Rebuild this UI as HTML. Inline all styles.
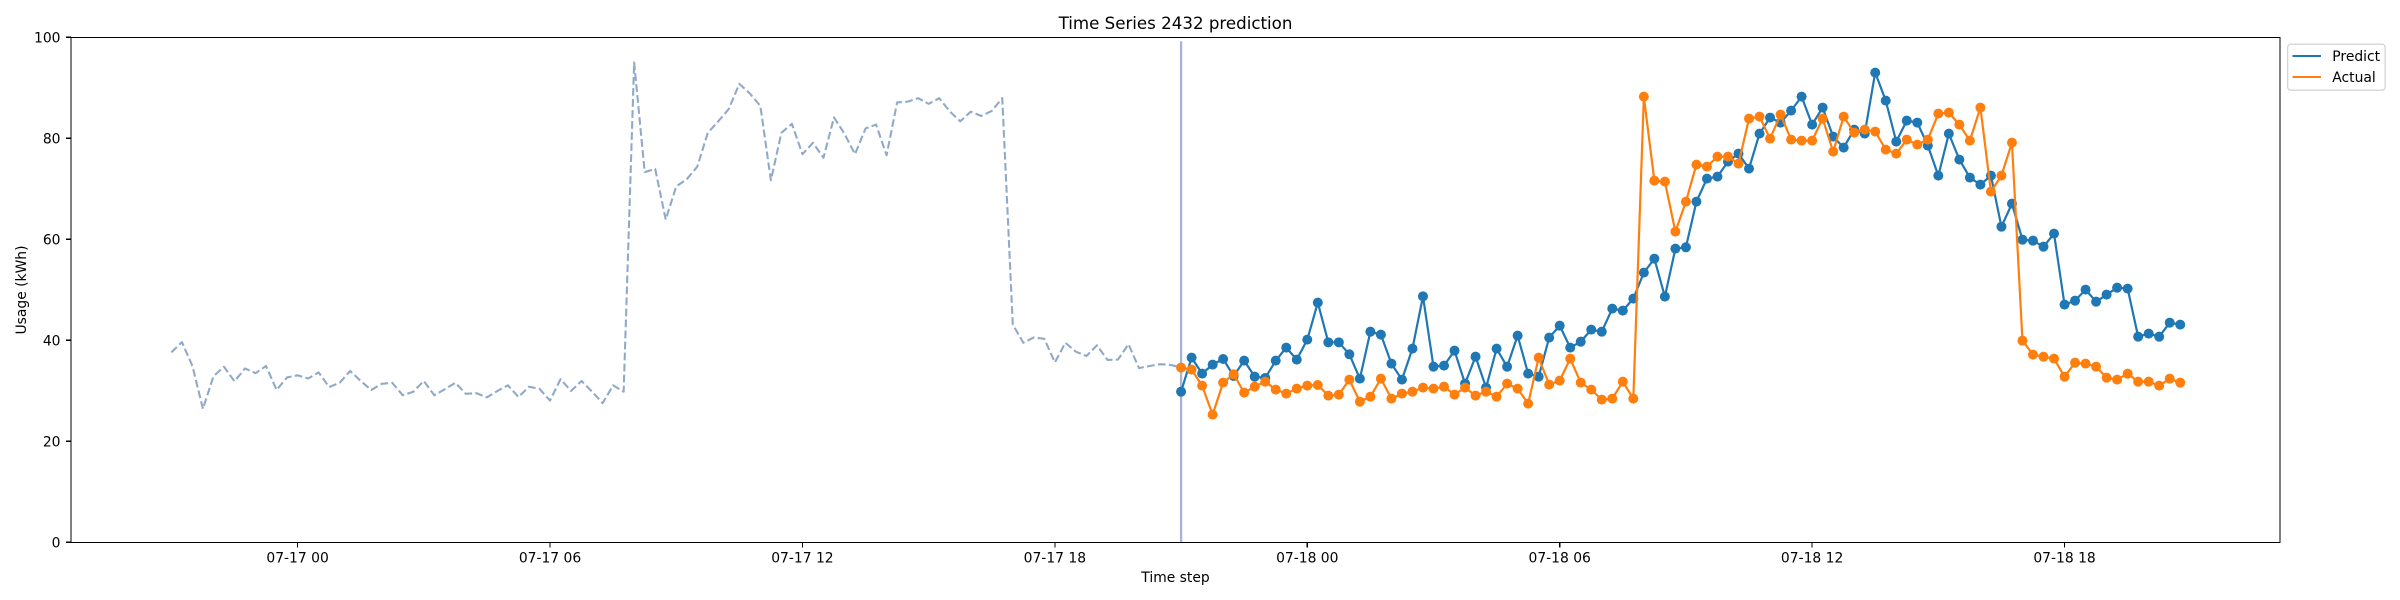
<!DOCTYPE html>
<html lang="en">
<head>
<meta charset="utf-8">
<title>Time Series 2432 prediction</title>
<style>
html,body{margin:0;padding:0;background:#fff;width:2400px;height:600px;overflow:hidden}
svg{display:block}
text{font-family:"DejaVu Sans","Liberation Sans",sans-serif;fill:#000;font-size:13.89px}
</style>
</head>
<body>
<svg id="chart" xmlns="http://www.w3.org/2000/svg" width="2400" height="600" viewBox="0 0 2400 600">
  <rect x="0" y="0" width="2400" height="600" fill="#fff"/>
  <g id="ticks"></g>
  <g id="marks"></g>
  <rect x="71" y="37.5" width="2209" height="505" fill="none" stroke="#000" stroke-width="1.11" shape-rendering="crispEdges"/>
  <text x="1175.5" y="29" text-anchor="middle" style="font-size:16.67px">Time Series 2432 prediction</text>
  <text x="1175.5" y="582" text-anchor="middle">Time step</text>
  <text transform="translate(26,290) rotate(-90)" text-anchor="middle">Usage (kWh)</text>
  <g>
    <rect x="2287.7" y="44.2" width="97.4" height="46" rx="3" ry="3" fill="#fff" fill-opacity="0.8" stroke="#ccc" stroke-width="1.1"/>
    <line x1="2292.5" x2="2321" y1="56" y2="56" stroke="#1f77b4" stroke-width="2.08"/>
    <text x="2332.3" y="61">Predict</text>
    <line x1="2292.5" x2="2321" y1="77" y2="77" stroke="#ff7f0e" stroke-width="2.08"/>
    <text x="2332.3" y="82">Actual</text>
  </g>
</svg>
<script>
// Values. Time is expressed in 15-minute steps.
const historyValues = [37.6,39.65,34.91,26.43,32.87,34.77,31.87,34.42,33.5,34.91,30.17,32.65,33.07,32.44,33.64,30.74,31.59,33.92,31.94,30.17,31.38,31.59,29.11,29.82,31.94,29.11,30.31,31.59,29.4,29.54,28.69,29.97,31.09,28.77,30.81,30.39,28.07,32.3,29.97,31.94,29.82,27.56,31.09,29.82,95.02,73.31,73.95,63.91,70.48,71.9,74.37,81.09,83.36,85.83,90.78,88.87,86.4,71.69,81.09,82.86,76.85,79.11,76.14,84.13,80.88,76.85,81.94,82.72,76.64,87.1,87.25,87.95,86.82,87.95,85.34,83.36,85.27,84.42,85.41,87.95,43.12,39.51,40.57,40.29,35.62,39.51,37.74,36.89,39.01,36.11,36.19,39.23,34.49,34.91,35.27,35.12,34.63];
const predictValues = [29.83,36.57,33.4,35.18,36.3,32.94,35.97,32.8,32.54,35.97,38.55,36.17,40.13,47.46,39.6,39.6,37.23,32.41,41.71,41.12,35.38,32.21,38.35,48.71,34.78,34.98,37.95,31.42,36.76,30.63,38.35,34.78,40.92,33.4,32.8,40.53,42.9,38.55,39.73,42.11,41.71,46.27,45.88,48.25,53.4,56.17,48.65,58.15,58.42,67.46,72.02,72.41,75.38,76.97,74,80.93,84.1,83.11,85.48,88.25,82.71,86.08,80.33,78.16,81.72,80.93,93.01,87.46,79.34,83.5,83.11,78.55,72.61,80.93,75.78,72.22,70.83,72.61,62.5,67.06,59.93,59.73,58.54,61.12,47.06,47.85,50.03,47.65,49.04,50.42,50.23,40.72,41.32,40.72,43.49,43.1];
const actualValues = [34.59,34.19,31.02,25.28,31.62,33.27,29.64,30.82,31.81,30.23,29.44,30.43,31.02,31.15,29.04,29.24,32.21,27.85,28.84,32.41,28.45,29.44,29.83,30.63,30.43,30.82,29.24,30.63,29.04,29.83,28.84,31.42,30.43,27.46,36.57,31.22,32.01,36.37,31.62,30.23,28.25,28.45,31.81,28.45,88.25,71.62,71.42,61.52,67.46,74.79,74.39,76.37,76.37,74.99,83.9,84.29,79.94,84.69,79.74,79.54,79.54,83.9,77.36,84.29,81.13,81.72,81.32,77.76,76.97,79.74,78.75,79.74,84.89,85.09,82.71,79.54,86.08,69.44,72.61,79.14,39.93,37.16,36.76,36.37,32.8,35.57,35.38,34.78,32.6,32.21,33.39,31.81,31.81,31.02,32.4,31.61];
const historyStartHour = -3;
const forecastStartHour = 21;
const stepHours = 0.25;
const xTickHours = [0,6,12,18,24,30,36,42];
const xTickLabels = ["07-17 00","07-17 06","07-17 12","07-17 18","07-18 00","07-18 06","07-18 12","07-18 18"];
const yTickValues = [0,20,40,60,80,100];
const forecastBoundaryTop = 99.2;

const NS = "http://www.w3.org/2000/svg";
const xScale = h => 297.6 + 42.07 * h;
const yScale = v => 542.3 - 5.05 * v;
const ticks = document.getElementById("ticks");
const marks = document.getElementById("marks");

function node(parent, tag, attrs) {
  const el = document.createElementNS(NS, tag);
  for (const k in attrs) el.setAttribute(k, attrs[k]);
  parent.appendChild(el);
  return el;
}
function linePoints(values, startHour) {
  return values.map((v, i) => xScale(startHour + i * stepHours).toFixed(2) + "," + yScale(v).toFixed(2)).join(" ");
}

xTickHours.forEach((h, i) => {
  const x = xScale(h);
  const t = node(ticks, "line", {x1: x, x2: x, y1: 542.5, y2: 547.4, stroke: "#000", "stroke-width": 1.11, "shape-rendering": "crispEdges"});
  
  
  const l = node(ticks, "text", {x: x, y: 562.5, "text-anchor": "middle"});
  
  
  l.textContent = xTickLabels[i];
});
yTickValues.forEach(v => {
  const y = yScale(v);
  const t = node(ticks, "line", {x1: 66.1, x2: 71, y1: y, y2: y, stroke: "#000", "stroke-width": 1.11, "shape-rendering": "crispEdges"});
  
  
  const l = node(ticks, "text", {x: 60.5, y: y + 5, "text-anchor": "end"});
  
  
  l.textContent = String(v);
});

const historyLine = node(marks, "polyline", {points: linePoints(historyValues, historyStartHour), fill: "none", stroke: "#8fa9c9", "stroke-width": 2.08, "stroke-dasharray": "7.7 3.33", "stroke-linejoin": "round"});



const boundary = node(marks, "line", {x1: xScale(forecastStartHour), x2: xScale(forecastStartHour), y1: yScale(forecastBoundaryTop), y2: yScale(0), stroke: "#a5b4d5", "stroke-width": 2.3});



function drawSeries(values, color, seriesName) {
  const g = node(marks, "g", {});
  
  
  const line = node(g, "polyline", {points: linePoints(values, forecastStartHour), fill: "none", stroke: color, "stroke-width": 2.2, "stroke-linejoin": "round"});
  
  
  values.forEach((v, i) => {
    const c = node(g, "circle", {cx: xScale(forecastStartHour + i * stepHours), cy: yScale(v), r: 5, fill: color});
    
    
  });
}
drawSeries(predictValues, "#1f77b4", "predict");
drawSeries(actualValues, "#ff7f0e", "actual");
</script>
</body>
</html>
